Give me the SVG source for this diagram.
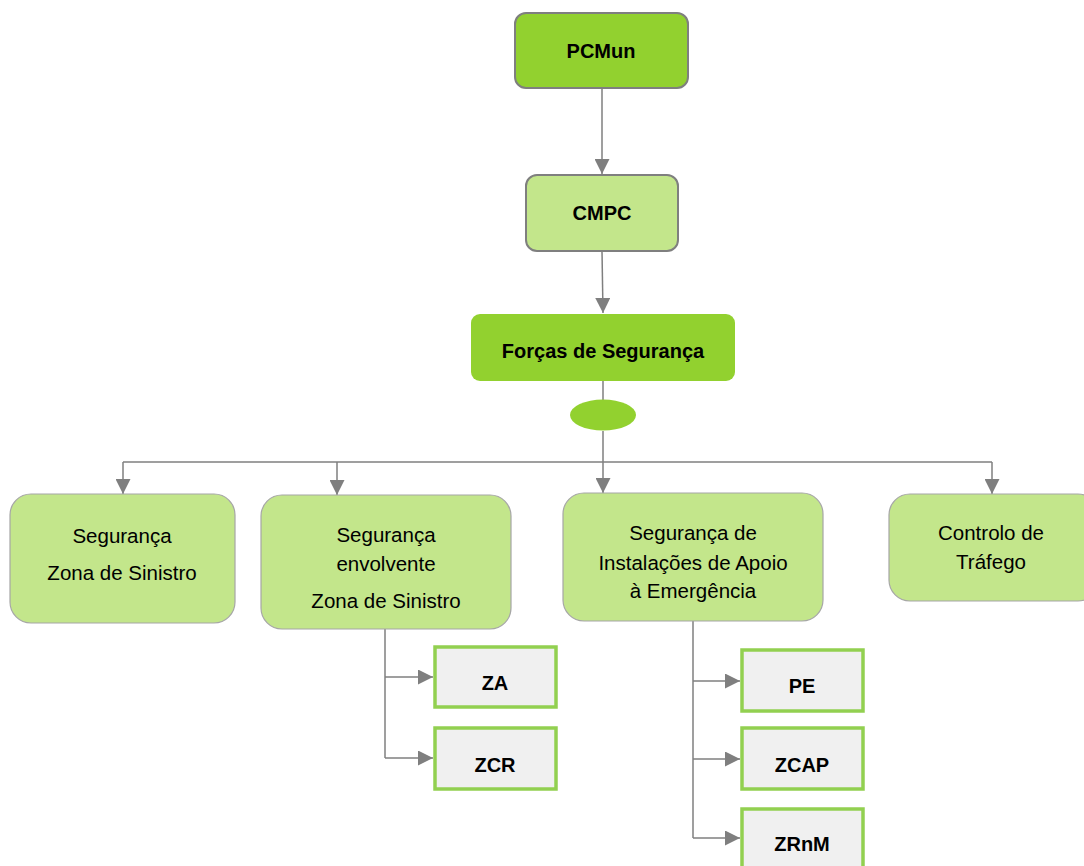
<svg xmlns="http://www.w3.org/2000/svg" width="1084" height="866" viewBox="0 0 1084 866">
<defs>
<marker id="arr" markerUnits="userSpaceOnUse" markerWidth="15" markerHeight="15" viewBox="0 0 14 14" refX="14" refY="7" orient="auto">
<path d="M0 0 L14 7 L0 14 Z" fill="#7f7f7f"/>
</marker>
<style>
.dark{fill:#92d12f}
.top{stroke:#7f7f7f;stroke-width:2}
.light{fill:#c3e68b;stroke:#a6a6a6;stroke-width:1.2}
.leaf{fill:#f0f0f0;stroke:#92d050;stroke-width:3.5}
.b{font-family:"Liberation Sans",Arial,sans-serif;font-weight:bold;font-size:20px;fill:#000;text-anchor:middle}
.t{font-family:"Liberation Sans",Arial,sans-serif;font-size:20.5px;fill:#000;text-anchor:middle}
.c{fill:none;stroke:#7f7f7f;stroke-width:1.5}
</style>
</defs>
<rect width="1084" height="866" fill="#fff"/>
<g id="connectors">
<path class="c" d="M602 88 V174" marker-end="url(#arr)"/>
<path class="c" d="M602 251 L603 313" marker-end="url(#arr)"/>
<path class="c" d="M603 381 V400"/>
<path class="c" d="M603 431 V462"/>
<path class="c" d="M123 462 H992"/>
<path class="c" d="M123 462 V494" marker-end="url(#arr)"/>
<path class="c" d="M337 462 V495" marker-end="url(#arr)"/>
<path class="c" d="M603 462 V493" marker-end="url(#arr)"/>
<path class="c" d="M992 462 V494" marker-end="url(#arr)"/>
<path class="c" d="M385 629 V758"/>
<path class="c" d="M385 677 H433" marker-end="url(#arr)"/>
<path class="c" d="M385 758 H433" marker-end="url(#arr)"/>
<path class="c" d="M693 621 V838"/>
<path class="c" d="M693 681 H740" marker-end="url(#arr)"/>
<path class="c" d="M693 759 H740" marker-end="url(#arr)"/>
<path class="c" d="M693 838 H740" marker-end="url(#arr)"/>
</g>
<g id="pcmun"><rect class="dark top" x="515" y="13" width="173" height="75" rx="11"/><text class="b" x="601" y="58">PCMun</text></g>
<g id="cmpc"><rect class="top" fill="#c3e68b" x="526" y="175" width="152" height="76" rx="11"/><text class="b" x="602" y="220">CMPC</text></g>
<g id="forcas"><rect class="dark" x="471" y="314" width="264" height="67" rx="9"/><text class="b" x="603" y="358">Forças de Segurança</text></g>
<g id="junction"><ellipse class="dark" cx="603" cy="415" rx="33" ry="15.5"/></g>
<g id="seg-zs"><rect class="light" x="10" y="494" width="225" height="129" rx="21"/><text class="t" x="122" y="543">Segurança</text><text class="t" x="122" y="580">Zona de Sinistro</text></g>
<g id="seg-env"><rect class="light" x="261" y="495" width="250" height="134" rx="21"/><text class="t" x="386" y="542">Segurança</text><text class="t" x="386" y="571">envolvente</text><text class="t" x="386" y="608">Zona de Sinistro</text></g>
<g id="seg-inst"><rect class="light" x="563" y="493" width="260" height="128" rx="21"/><text class="t" x="693" y="540">Segurança de</text><text class="t" x="693" y="570">Instalações de Apoio</text><text class="t" x="693" y="598">à Emergência</text></g>
<g id="trafego"><rect class="light" x="889" y="494" width="210" height="107" rx="21"/><text class="t" x="991" y="540">Controlo de</text><text class="t" x="991" y="569">Tráfego</text></g>
<g id="za"><rect class="leaf" x="435" y="647" width="121" height="60"/><text class="b" x="495" y="690">ZA</text></g>
<g id="zcr"><rect class="leaf" x="435" y="728" width="121" height="61"/><text class="b" x="495" y="772">ZCR</text></g>
<g id="pe"><rect class="leaf" x="742" y="650" width="121" height="61"/><text class="b" x="802" y="693">PE</text></g>
<g id="zcap"><rect class="leaf" x="742" y="728" width="121" height="61"/><text class="b" x="802" y="772">ZCAP</text></g>
<g id="zrnm"><rect class="leaf" x="742" y="809" width="121" height="70"/><text class="b" x="802" y="851">ZRnM</text></g>
</svg>
